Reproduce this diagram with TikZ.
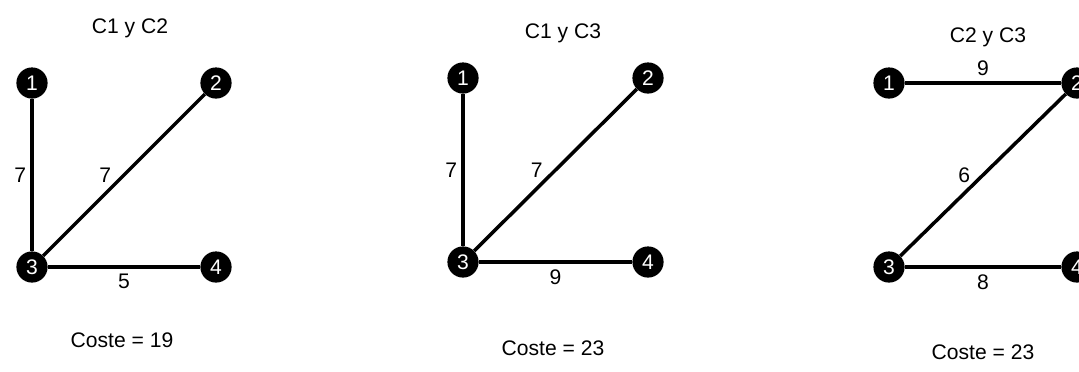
\documentclass[tikz,border=0pt]{standalone}
\usepackage{fontspec}
\setmainfont{Liberation Sans}
\usepackage{tikz}
\usetikzlibrary{positioning}

\begin{document}
\begin{tikzpicture}[x=0.025cm,y=-0.025cm,every node/.style={font=\fontsize{15}{18}\selectfont},vtx/.style={circle,fill=black,text=white,minimum size=0.78cm,inner sep=0pt,font=\fontsize{15}{17}\selectfont},edge/.style={line width=2.5pt,black},lbl/.style={inner sep=4pt}]
\useasboundingbox (0,0) rectangle (1079,371);
% C1 y C2
\node at (130,28) (tA) {C1 y C2};
\node[vtx] at (32,83) (a1) {1};
\node[vtx] at (216,83) (a2) {2};
\node[vtx] at (32,267) (a3) {3};
\node[vtx] at (216,267) (a4) {4};
\draw[edge] (a1)--node[lbl,left,xshift=1pt]{7} (a3);
\draw[edge] (a3)--node[lbl,left,xshift=-4pt]{7} (a2);
\draw[edge] (a3)--node[lbl,below]{5} (a4);
\node at (122,340) (cA) {Coste = 19};
% C1 y C3
\node at (563,33) (tB) {C1 y C3};
\node[vtx] at (463,78) (b1) {1};
\node[vtx] at (648,78) (b2) {2};
\node[vtx] at (463,262) (b3) {3};
\node[vtx] at (648,262) (b4) {4};
\draw[edge] (b1)--node[lbl,left,xshift=1pt]{7} (b3);
\draw[edge] (b3)--node[lbl,left,xshift=-4pt]{7} (b2);
\draw[edge] (b3)--node[lbl,below]{9} (b4);
\node at (553,348) (cB) {Coste = 23};
% C2 y C3
\node at (988,37) (tC) {C2 y C3};
\node[vtx] at (889,83) (c1) {1};
\node[vtx] at (1077,83) (c2) {2};
\node[vtx] at (889,267) (c3) {3};
\node[vtx] at (1077,267) (c4) {4};
\draw[edge] (c1)--node[lbl,above]{9} (c2);
\draw[edge] (c3)--node[lbl,left,xshift=-4pt]{6} (c2);
\draw[edge] (c3)--node[lbl,below]{8} (c4);
\node at (983,352) (cC) {Coste = 23};
\end{tikzpicture}
\end{document}
